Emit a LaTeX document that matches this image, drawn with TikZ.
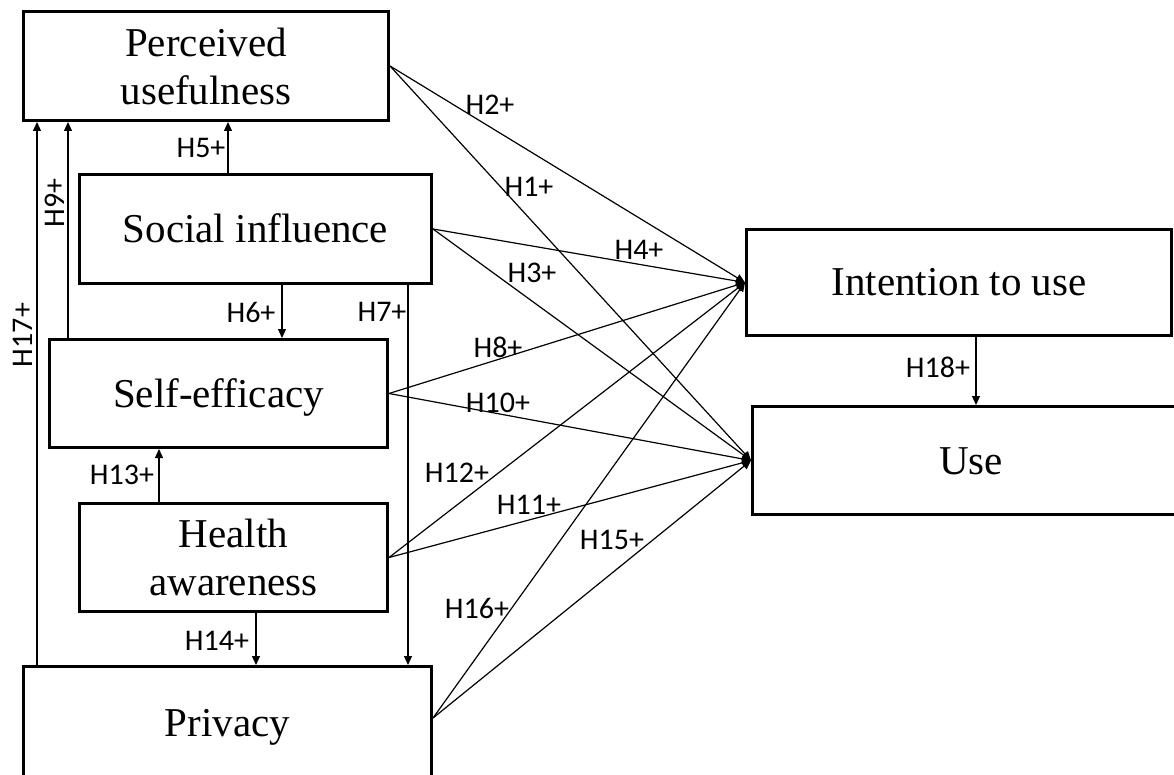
\documentclass[tikz,border=0pt]{standalone}
\usepackage{fontspec}
\setmainfont{Liberation Serif}
\newfontfamily\hypfont{Carlito}
\usetikzlibrary{arrows.meta}

\begin{document}
\begin{tikzpicture}[x=1pt,y=-1pt,
  box/.style={draw, line width=2.6pt, rectangle, inner sep=0pt, align=center,
    font=\fontsize{41}{48}\selectfont},
  oneline/.style={text height=27pt, text depth=0pt},
  link/.style={line width=1.2pt},
  arr/.style={link, -{Triangle[length=9pt,width=8pt]}},
  hyp/.style={font=\hypfont\fontsize{30}{30}\selectfont, inner sep=0pt}]

% canvas; boxes running past the edge are cut off
\clip (0,0) rectangle (1174,775);
\fill[white] (0,0) rectangle (1174,775);

% constructs
\node[box, minimum width=365.4pt, minimum height=109.4pt] (PU) at (206,66) {Perceived\\usefulness};
\node[box, oneline, minimum width=352.4pt, minimum height=109.4pt] (SI) at (255.5,229) {Social influence};
\node[box, oneline, minimum width=338.4pt, minimum height=108.4pt] (SE) at (218.5,393.5) {Self-efficacy};
\node[box, minimum width=308.4pt, minimum height=108.4pt] (HA) at (233.5,557.5) {Health\\awareness};
\node[box, oneline, minimum width=408.4pt, minimum height=113.4pt] (PR) at (227.5,723) {Privacy};
\node[box, oneline, minimum width=425.4pt, minimum height=106.4pt] (ITU) at (959,282.5) {Intention to use};
\node[box, oneline, minimum width=437.4pt, minimum height=108.4pt] (USE) at (971,460.5) {Use};

% vertical paths
\coordinate (c5) at (228,0);
\coordinate (c6) at (282,0);
\coordinate (c7) at (408,0);
\coordinate (c9) at (68,0);
\coordinate (c13) at (159,0);
\coordinate (c14) at (256,0);
\coordinate (c17) at (37,0);
\coordinate (c18) at (976,0);

\draw[arr] (SI.north -| c5) -- (PU.south -| c5);
\draw[arr] (SI.south -| c6) -- (SE.north -| c6);
\draw[arr] (SI.south -| c7) -- (PR.north -| c7);
\draw[arr] (SE.north -| c9) -- (PU.south -| c9);
\draw[arr] (HA.north -| c13) -- (SE.south -| c13);
\draw[arr] (HA.south -| c14) -- (PR.north -| c14);
\draw[arr] (PR.north -| c17) -- (PU.south -| c17);
\draw[arr] (ITU.south -| c18) -- (USE.north -| c18);

% paths to intention and use
\coordinate (PRout) at ([yshift=5pt]PR.east);
\draw[arr] (PU.east) -- (ITU.west);
\draw[arr] (PU.east) -- (USE.west);
\draw[arr] (SI.east) -- (ITU.west);
\draw[arr] (SI.east) -- (USE.west);
\draw[arr] (SE.east) -- (ITU.west);
\draw[arr] (SE.east) -- (USE.west);
\draw[arr] (HA.east) -- (ITU.west);
\draw[arr] (HA.east) -- (USE.west);
\draw[arr] (PRout) -- (ITU.west);
\draw[arr] (PRout) -- (USE.west);

% hypothesis labels
\node[hyp] (h1) at (529,187) {H1+};
\node[hyp] (h2) at (490,105) {H2+};
\node[hyp] (h3) at (532,273) {H3+};
\node[hyp] (h4) at (639,250) {H4+};
\node[hyp] (h5) at (201,148) {H5+};
\node[hyp] (h6) at (251,312) {H6+};
\node[hyp] (h7) at (382,312) {H7+};
\node[hyp] (h8) at (498,347) {H8+};
\node[hyp, rotate=90] (h9) at (55,203) {H9+};
\node[hyp] (h10) at (498,403) {H10+};
\node[hyp] (h11) at (529,505) {H11+};
\node[hyp] (h12) at (457,473) {H12+};
\node[hyp] (h13) at (122,475) {H13+};
\node[hyp] (h14) at (217,641) {H14+};
\node[hyp] (h15) at (612,540) {H15+};
\node[hyp] (h16) at (477,608) {H16+};
\node[hyp, rotate=90] (h17) at (23,335) {H17+};
\node[hyp] (h18) at (938,367) {H18+};
\end{tikzpicture}
\end{document}
